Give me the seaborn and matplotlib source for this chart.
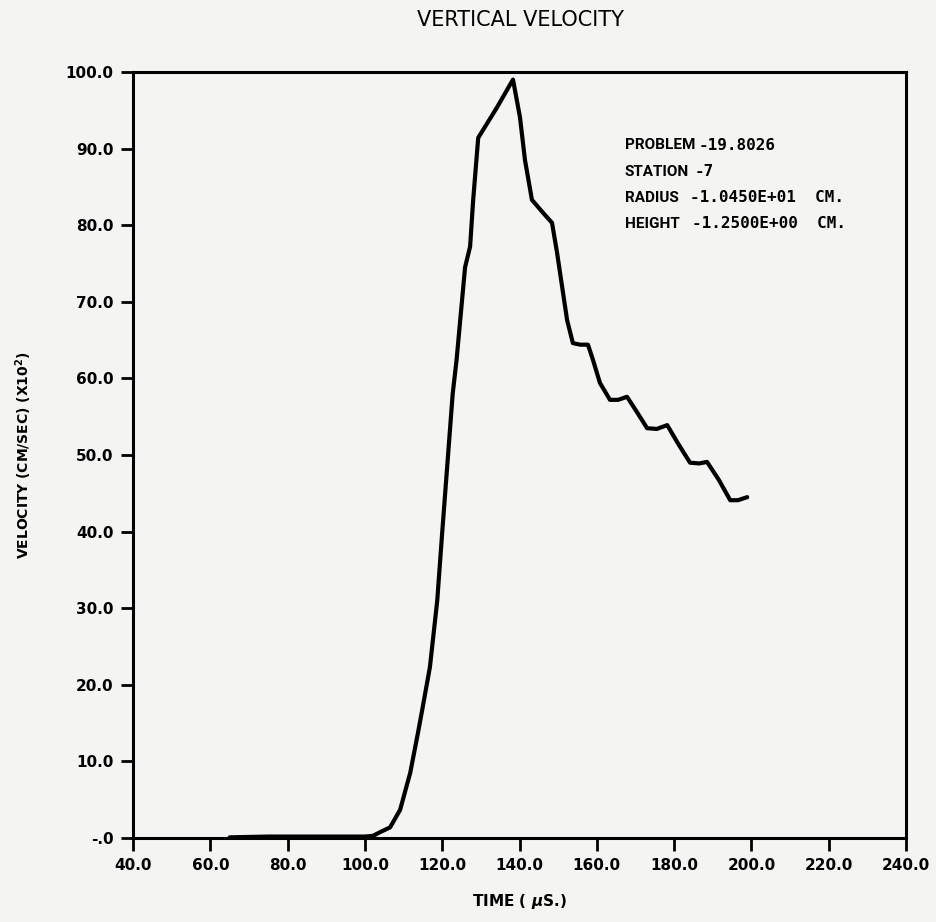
import matplotlib
matplotlib.use("Agg")
import matplotlib.pyplot as plt
import seaborn as sns
import pandas as pd

# ==============================================================================
# DADOS
# ==============================================================================
tempo = [65.0, 75.0, 90.0, 100.0, 102.1, 104.0, 106.5, 109.1, 111.7, 113.7,
         114.8, 116.8, 118.7, 120.0, 121.5, 122.7, 123.7, 125.9, 127.2, 128.0,
         129.3, 134.2, 138.3, 140.1, 141.4, 143.2, 146.1, 148.4, 149.7, 152.3,
         153.8, 155.7, 157.7, 159.0, 160.8, 163.4, 165.5, 167.8, 170.5, 173.0,
         175.5, 178.2, 181.0, 184.1, 186.5, 188.5, 191.5, 194.5, 196.5, 198.9]
velocidade = [0.1, 0.2, 0.2, 0.2, 0.3, 0.8, 1.4, 3.7, 8.5, 13.7,
              16.7, 22.3, 31.0, 40.0, 50.0, 58.0, 62.4, 74.5, 77.2, 83.3,
              91.4, 95.4, 99.0, 94.1, 88.5, 83.3, 81.6, 80.3, 76.4, 67.6,
              64.6, 64.4, 64.4, 62.4, 59.4, 57.2, 57.2, 57.6, 55.5, 53.5,
              53.4, 53.9, 51.5, 49.0, 48.9, 49.1, 46.8, 44.1, 44.1, 44.5]

x_ticks = [40, 60, 80, 100, 120, 140, 160, 180, 200, 220, 240]
x_tick_labels = ["40.0", "60.0", "80.0", "100.0", "120.0", "140.0", "160.0",
                 "180.0", "200.0", "220.0", "240.0"]
y_ticks = [0, 10, 20, 30, 40, 50, 60, 70, 80, 90, 100]
y_tick_labels = ["-.0", "10.0", "20.0", "30.0", "40.0", "50.0", "60.0",
                 "70.0", "80.0", "90.0", "100.0"]

info_rotulos = ["PROBLEM", "STATION", "RADIUS", "HEIGHT"]
info_valores = ["-19.8026", "-7", "-1.0450E+01  CM.", "-1.2500E+00  CM."]

# ==============================================================================
# GRAFICO
# ==============================================================================
sns.set_theme(style="white")
plt.rcParams["font.family"] = ["DejaVu Sans"]
plt.rcParams.update({"font.weight": "bold", "text.color": "black",
                     "axes.labelcolor": "black", "xtick.color": "black",
                     "ytick.color": "black"})

fundo = "#f4f4f2"
fig = plt.figure(figsize=(9.37, 9.22), dpi=100, facecolor=fundo)
ax = fig.add_axes([0.142, 0.091, 0.825, 0.831])
ax.set_facecolor(fundo)

df = pd.DataFrame({"tempo": tempo, "velocidade": velocidade})
sns.lineplot(data=df, x="tempo", y="velocidade", ax=ax, sort=False,
             estimator=None, color="black", linewidth=3.0)

ax.set_xlim(40, 240)
ax.set_ylim(0, 100)
ax.set_xticks(x_ticks)
ax.set_xticklabels(x_tick_labels, fontsize=11, fontweight="bold")
ax.set_yticks(y_ticks)
ax.set_yticklabels(y_tick_labels, fontsize=11, fontweight="bold")
ax.tick_params(axis="both", direction="out", length=9, width=2,
               color="black", pad=5, bottom=True, left=True)

for sp in ax.spines.values():
    sp.set_visible(True)
    sp.set_color("black")
    sp.set_linewidth(2.2)

ax.set_xlabel("TIME ( $\\mu$S.)", fontsize=11, fontweight="bold", labelpad=14)
ax.set_ylabel("VELOCITY (CM/SEC) (X10$^{\\mathbf{2}}$)", fontsize=10,
              fontweight="bold")
ax.yaxis.set_label_coords(-0.128, 0.5)
fig.text(0.555, 0.978, "VERTICAL VELOCITY", ha="center", va="center",
         fontsize=15, fontweight="normal")

# bloco de informacoes no canto superior direito
linhas_y = [0.904, 0.870, 0.836, 0.802]
pos_valores = [0.731, 0.726, 0.7206, 0.723]
for rot, val, yy, xv in zip(info_rotulos, info_valores, linhas_y, pos_valores):
    ax.text(0.636, yy, rot, transform=ax.transAxes, fontsize=11,
            fontweight="bold", va="center", ha="left",
            family=["Roboto", "DejaVu Sans"])
    ax.text(xv, yy, val, transform=ax.transAxes, fontsize=11.5,
            fontweight="bold", va="center", ha="left",
            family=["DejaVu Sans Mono", "DejaVu Sans"])

fig.savefig("out.png", dpi=100, facecolor=fundo)
